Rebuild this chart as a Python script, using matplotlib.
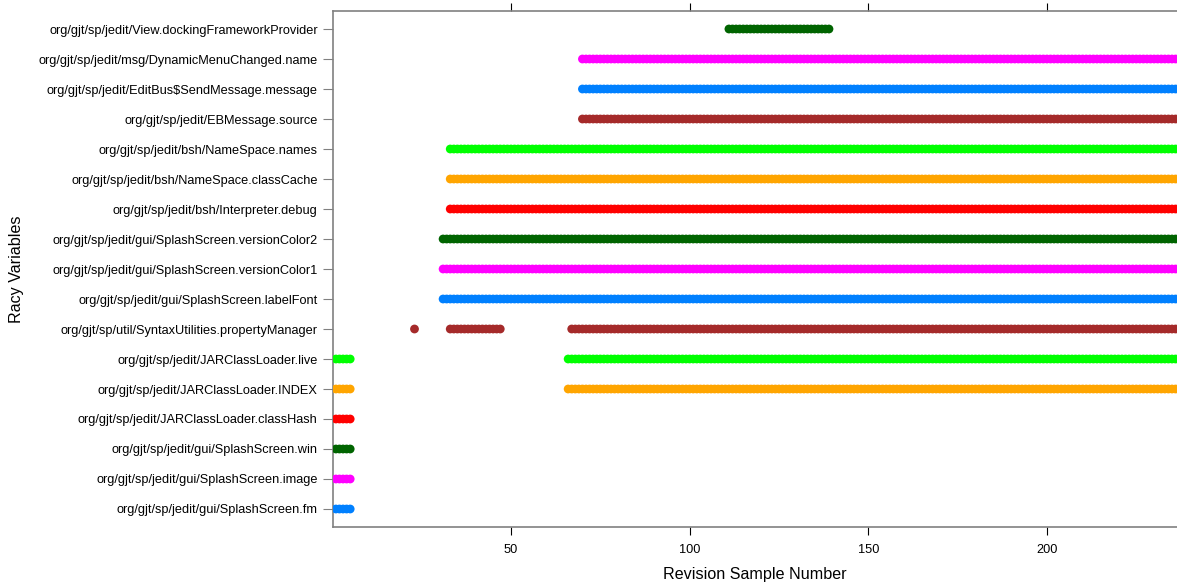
import numpy as np
import matplotlib
matplotlib.use("Agg")
import matplotlib.pyplot as plt

plt.rcParams['font.family'] = ['Liberation Sans', 'DejaVu Sans']

# variables, bottom to top
variables = [
    "org/gjt/sp/jedit/gui/SplashScreen.fm",
    "org/gjt/sp/jedit/gui/SplashScreen.image",
    "org/gjt/sp/jedit/gui/SplashScreen.win",
    "org/gjt/sp/jedit/JARClassLoader.classHash",
    "org/gjt/sp/jedit/JARClassLoader.INDEX",
    "org/gjt/sp/jedit/JARClassLoader.live",
    "org/gjt/sp/util/SyntaxUtilities.propertyManager",
    "org/gjt/sp/jedit/gui/SplashScreen.labelFont",
    "org/gjt/sp/jedit/gui/SplashScreen.versionColor1",
    "org/gjt/sp/jedit/gui/SplashScreen.versionColor2",
    "org/gjt/sp/jedit/bsh/Interpreter.debug",
    "org/gjt/sp/jedit/bsh/NameSpace.classCache",
    "org/gjt/sp/jedit/bsh/NameSpace.names",
    "org/gjt/sp/jedit/EBMessage.source",
    "org/gjt/sp/jedit/EditBus$SendMessage.message",
    "org/gjt/sp/jedit/msg/DynamicMenuChanged.name",
    "org/gjt/sp/jedit/View.dockingFrameworkProvider",
]

# revision ranges (inclusive) where each variable is racy
last_rev = 240
ranges = [
    [(1, 5)],
    [(1, 5)],
    [(1, 5)],
    [(1, 5)],
    [(1, 5), (66, last_rev)],
    [(1, 5), (66, last_rev)],
    [(23, 23), (33, 47), (67, last_rev)],
    [(31, last_rev)],
    [(31, last_rev)],
    [(31, last_rev)],
    [(33, last_rev)],
    [(33, last_rev)],
    [(33, last_rev)],
    [(70, last_rev)],
    [(70, last_rev)],
    [(70, last_rev)],
    [(111, 139)],
]

palette = ["#0080ff", "#ff00ff", "#006400", "#ff0000", "#ffa500", "#00ff00", "#a52a2a"]

fig = plt.figure(figsize=(11.77, 5.85), dpi=100)
ax = fig.add_axes([333/1177, 1 - 527/585, 1 - 333/1177, (527 - 11)/585])

for i, (name, segs) in enumerate(zip(variables, ranges)):
    xs = np.concatenate([np.arange(a, b + 1) for a, b in segs])
    ax.scatter(xs, np.full(len(xs), i + 1), s=40, color=palette[i % len(palette)],
               edgecolors='none', zorder=3)

ax.set_xlim(0.19, 236.4)
ax.set_ylim(0.4, len(variables) + 0.6)
ax.set_yticks(np.arange(1, len(variables) + 1))
ax.set_yticklabels(variables, fontsize=9.2)
ax.set_xticks([50, 100, 150, 200])
ax.tick_params(axis='x', which='both', direction='out', length=6, color='black',
               top=True, labeltop=False, labelsize=9.2, pad=6)
ax.tick_params(axis='y', direction='out', length=7, color='#808080', labelsize=9.2, pad=4)
for s in ['left', 'top', 'bottom']:
    ax.spines[s].set_color('#808080')
    ax.spines[s].set_linewidth(1.2)
ax.spines['right'].set_visible(False)

ax.set_xlabel("Revision Sample Number", fontsize=11.6, labelpad=8)
fig.text(17/1177, 1 - 269/585, "Racy Variables", rotation=90, fontsize=11.6,
         ha='center', va='center')

fig.savefig("out.png", dpi=100)
